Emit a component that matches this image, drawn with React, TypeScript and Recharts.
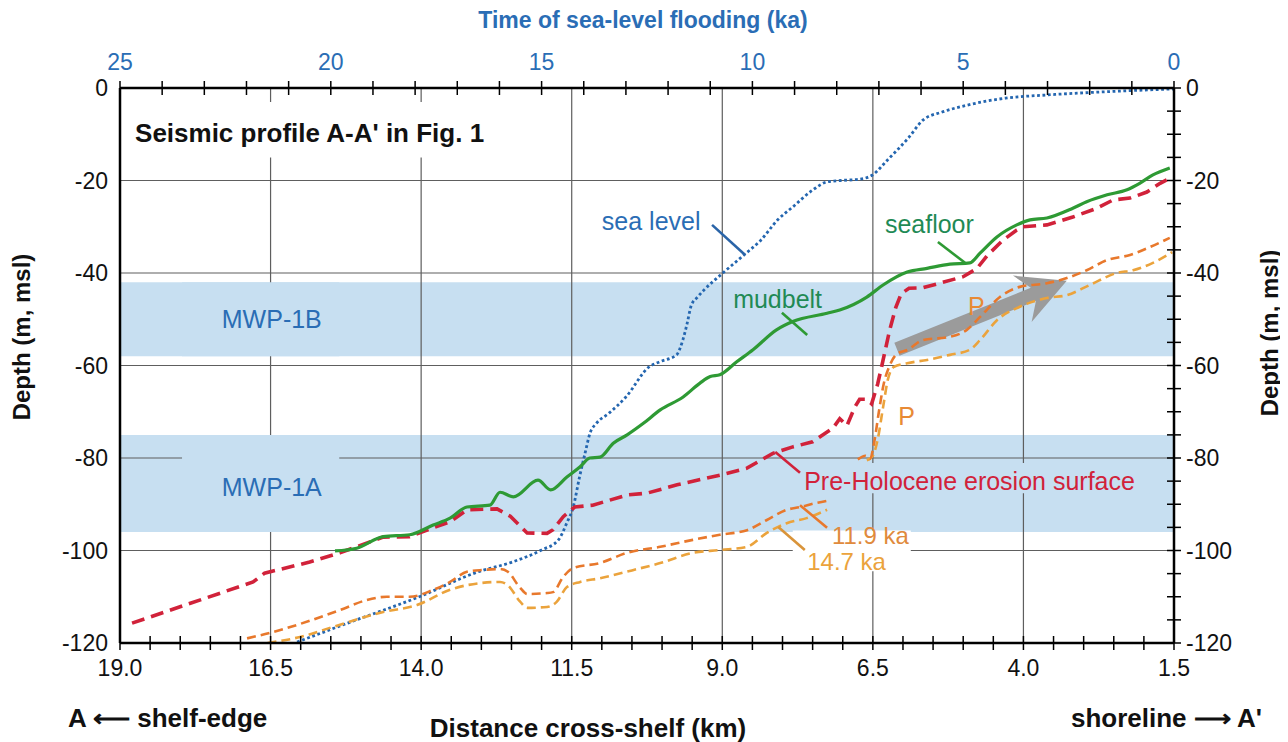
import React from 'react';
import {
  LineChart, Line, XAxis, YAxis, ReferenceArea, ReferenceLine, ReferenceDot,
} from 'recharts';

const FONT = '"Liberation Sans", Arial, Helvetica, sans-serif';

// sea-level curve, read against the top time axis (ka)
const seaLevelKa = [20.8, 19.6, 17.9, 16.5, 15.7, 15.0, 14.6, 14.4, 14.25, 14.1, 13.97, 13.85, 13.7, 13.4, 13.0, 12.45, 12.2, 11.8, 11.65, 11.55, 11.45, 11.3, 11.15, 10.7, 10.2, 9.8, 9.4, 9.04, 8.56, 8.23, 7.9, 7.45, 7.15, 6.8, 6.3, 5.95, 5.5, 4.9, 4.0, 3.0, 1.6, 0];
const seaLevelDepth = [-119.8, -115.7, -110, -104.6, -102.5, -99.9, -97.7, -94, -90.6, -84.1, -79, -74.6, -72.5, -70.3, -66.8, -60.3, -59.2, -57.7, -54.5, -51, -47, -45.2, -43.7, -40, -36.1, -32.9, -28.5, -25.7, -22, -20.3, -20, -19.7, -18.8, -15.6, -10.8, -6.9, -5.2, -3.7, -2.2, -1.5, -0.8, -0.2];

// seafloor (km cross-shelf, m)
const seafloorKm = [15.43, 15.07, 14.63, 14.19, 13.8, 13.52, 13.24, 12.86, 12.69, 12.47, 12.06, 11.85, 11.58, 11.36, 11.2, 11.03, 10.81, 10.58, 10.31, 10.03, 9.65, 9.37, 9.2, 9.04, 8.76, 8.49, 8.1, 7.83, 7.26, 7.05, 6.6, 6.33, 5.93, 5.6, 5.22, 4.89, 4.72, 4.44, 4.11, 3.89, 3.61, 3.18, 2.95, 2.61, 2.28, 2.07, 1.85, 1.57];
const seafloorDepth = [-100.1, -99.5, -97, -96.6, -94.5, -93, -90.6, -90.2, -87.4, -88.4, -84.8, -86.9, -84.1, -81.9, -80, -79.8, -76.8, -75, -72.5, -69.6, -66.8, -63.8, -62.4, -62, -59.2, -56.6, -52.3, -50.5, -48.7, -48, -45.2, -42.6, -39.8, -39, -38.1, -37.8, -35.7, -32.2, -29.6, -28.5, -28.1, -26, -24.6, -23.1, -22, -20.6, -18.8, -17.3];

// pre-Holocene erosion surface
const erosionKm = [18.8, 16.79, 16.6, 15.85, 15.35, 14.63, 14.19, 13.8, 13.52, 13.24, 12.74, 12.52, 12.24, 11.91, 11.81, 11.64, 11.45, 11.15, 10.58, 10.25, 9.75, 9.04, 8.59, 8.16, 7.83, 7.5, 7.16, 7.05, 6.93, 6.8, 6.72, 6.6, 6.52, 6.42, 6.35, 6.22, 6.12, 6.03, 5.9, 5.67, 5.39, 5.0, 4.77, 4.6, 4.34, 4.11, 4.01, 3.61, 3.18, 2.78, 2.51, 2.23, 1.95, 1.73, 1.52];
const erosionDepth = [-115.7, -106.8, -104.9, -102.5, -100.5, -97.1, -97, -95.1, -93.8, -91.2, -91, -92.6, -96.2, -96.3, -95.5, -92.7, -90.6, -90.2, -88, -87.6, -85.8, -83.7, -82.2, -79, -77.6, -76.5, -73.5, -71.5, -73, -69, -67.3, -67.3, -68.3, -64, -60, -52.3, -47.5, -44.5, -43.3, -43.2, -42.2, -40.8, -39, -36.2, -32.9, -30.7, -30, -29.6, -27.9, -26, -24.2, -23.8, -22.5, -20.6, -19.2];

// 11.9 ka horizon (outer shelf part, then the P segment near shore)
const h119Km = [16.89, 16.51, 15.35, 14.9, 14.57, 14.19, 13.8, 13.52, 13.24, 12.97, 12.69, 12.56, 12.36, 12.24, 11.91, 11.81, 11.64, 11.48, 11.03, 10.58, 10.03, 9.49, 9.04, 8.59, 8.26, 7.93, 7.71, 7.5, 7.2];
const h119Depth = [-119, -117.8, -112.9, -110.7, -110, -110, -108.5, -106.8, -104.6, -104.2, -104, -104.6, -108, -109.4, -109.2, -109, -105.7, -103.8, -102.7, -100.5, -99.2, -97.7, -96.6, -95.6, -93.4, -91.2, -90.6, -89.9, -89.1];
const h119PKm = [6.75, 6.62, 6.55, 6.47, 6.4, 6.32, 6.22, 6.1, 5.92, 5.67, 5.22, 4.94, 4.72, 4.39, 4.06, 3.61, 3.28, 2.95, 2.61, 2.23, 1.9, 1.57];
const h119PDepth = [-80.3, -79.5, -80.2, -76, -70, -64, -60, -57.5, -56.6, -54.5, -53.8, -52.3, -49.5, -45.2, -43, -42.2, -41.1, -39.4, -37.2, -36.1, -34.4, -32.4];

// 14.7 ka horizon
const h147Km = [16.55, 16.01, 15.46, 14.63, 14.07, 13.52, 13.24, 12.69, 12.56, 12.36, 12.24, 11.91, 11.75, 11.58, 11.36, 11.03, 10.5, 10.0, 9.49, 9.04, 8.59, 8.26, 7.93, 7.6, 7.26];
const h147Depth = [-120, -118.7, -116.5, -113.3, -111.8, -108.5, -107.5, -106.8, -107.5, -111, -112.4, -112.2, -111.1, -107.9, -106.8, -106, -104.3, -102.6, -100.5, -99.9, -99.2, -96.2, -94.1, -93, -91.2];
const h147PKm = [6.6, 6.5, 6.42, 6.33, 6.25, 6.15, 5.93, 5.6, 5.22, 4.89, 4.72, 4.44, 4.06, 3.61, 3.28, 2.9, 2.45, 2.18, 1.85, 1.53];
const h147PDepth = [-80.5, -79.5, -76, -69, -63, -60.3, -59.5, -58.8, -57.7, -56.6, -54.5, -50.2, -47.3, -45.4, -44.8, -42.6, -40, -39.4, -37.8, -35.5];

// meltwater pulse depth bands
const mwpNames = ['MWP-1B', 'MWP-1A'];
const mwpTop = [-42, -75];
const mwpBottom = [-58, -96];

// axis labels
const distanceLabels = [19.0, 16.5, 14.0, 11.5, 9.0, 6.5, 4.0, 1.5];
const timeLabels = [25, 20, 15, 10, 5, 0];
const depthLabels = [0, -20, -40, -60, -80, -100, -120];

// tick marks (minor steps)
const distanceTicks: number[] = [];
for (let v = 1.5; v <= 19.001; v += 0.5) distanceTicks.push(Math.round(v * 10) / 10);
const timeTicks: number[] = [];
for (let v = 0; v <= 25; v += 1) timeTicks.push(v);
const depthTicks: number[] = [];
for (let v = 0; v >= -120; v -= 5) depthTicks.push(v);

const BLUE = '#2a6db5';
const GREEN = '#2e9a34';
const GREEN_TEXT = '#1f8a55';
const RED = '#d1223a';
const ORANGE = '#e8782c';
const ORANGE_LIGHT = '#eba33c';
const BAND = '#c7dff1';
const GRID = '#5e5e5e';

const rows = (xs: number[], ys: number[], key: string) => xs.map((x, i) => ({ [key]: x, depth: ys[i] }));

const seaLevelData = rows(seaLevelKa, seaLevelDepth, 'ka');
const seafloorData = rows(seafloorKm, seafloorDepth, 'km');
const erosionData = rows(erosionKm, erosionDepth, 'km');
const h119Data = rows(h119Km, h119Depth, 'km');
const h119PData = rows(h119PKm, h119PDepth, 'km');
const h147Data = rows(h147Km, h147Depth, 'km');
const h147PData = rows(h147PKm, h147PDepth, 'km');

const isIn = (list: number[], v: number) => list.some((m) => Math.abs(m - v) < 1e-6);

const KmTick = (props: any) => {
  const { x, y, payload } = props;
  const v = payload.value;
  return (
    <g>
      <line x1={x} x2={x} y1={y - 7} y2={y + 7} stroke="#000" strokeWidth={1.5} />
      {isIn(distanceLabels, v) && (
        <text x={x} y={y + 33} textAnchor="middle" fontSize={23} fontFamily={FONT} fill="#111">
          {v.toFixed(1)}
        </text>
      )}
    </g>
  );
};

const KaTick = (props: any) => {
  const { x, y, payload } = props;
  const v = payload.value;
  return (
    <g>
      <line x1={x} x2={x} y1={y - 7} y2={y + 7} stroke="#000" strokeWidth={1.5} />
      {isIn(timeLabels, v) && (
        <text x={x} y={y - 18} textAnchor="middle" fontSize={23} fontFamily={FONT} fill={BLUE}>
          {v}
        </text>
      )}
    </g>
  );
};

const LeftTick = (props: any) => {
  const { x, y, payload } = props;
  return (
    <text x={x - 12} y={y + 8} textAnchor="end" fontSize={23} fontFamily={FONT} fill="#111">
      {payload.value}
    </text>
  );
};

const RightTick = (props: any) => {
  const { x, y, payload } = props;
  const v = payload.value;
  return (
    <g>
      <line x1={x - 7} x2={x + 7} y1={y} y2={y} stroke="#000" strokeWidth={1.5} />
      {isIn(depthLabels, v) && (
        <text x={x + 12} y={y + 8} textAnchor="start" fontSize={23} fontFamily={FONT} fill="#111">
          {v}
        </text>
      )}
    </g>
  );
};

const ArrowShape = (props: any) => {
  const { x1, y1, x2, y2 } = props;
  const dx = x2 - x1;
  const dy = y2 - y1;
  const len = Math.hypot(dx, dy) || 1;
  const ux = dx / len;
  const uy = dy / len;
  const nx = -uy;
  const ny = ux;
  const head = 42;
  const hw = 25;
  const sw = 7;
  const bx = x2 - ux * head;
  const by = y2 - uy * head;
  const pts = [
    [x1 + nx * sw, y1 + ny * sw],
    [bx + nx * sw + ux * 6, by + ny * sw + uy * 6],
    [bx + nx * hw - ux * 6, by + ny * hw - uy * 6],
    [x2, y2],
    [bx - nx * hw - ux * 6, by - ny * hw - uy * 6],
    [bx - nx * sw + ux * 6, by - ny * sw + uy * 6],
    [x1 - nx * sw, y1 - ny * sw],
  ];
  return <polygon points={pts.map((p) => p.join(',')).join(' ')} fill="#9b9b9b" />;
};

type Note = { text: string; km: number; depth: number; color: string; size?: number; bold?: boolean };
const notes: Note[] = [
  { text: "Seismic profile A-A' in Fig. 1", km: 18.75, depth: -11.7, color: '#111', size: 26, bold: true },
  { text: 'MWP-1B', km: 17.31, depth: -51.9, color: BLUE },
  { text: 'MWP-1A', km: 17.31, depth: -88.2, color: BLUE },
  { text: 'sea level', km: 11.0, depth: -30.7, color: BLUE },
  { text: 'mudbelt', km: 8.82, depth: -47.6, color: GREEN_TEXT },
  { text: 'seafloor', km: 6.3, depth: -31.4, color: GREEN_TEXT },
  { text: 'Pre-Holocene erosion surface', km: 7.64, depth: -86.9, color: RED },
  { text: '11.9 ka', km: 7.18, depth: -98.6, color: '#e08a3c', size: 24 },
  { text: '14.7 ka', km: 7.59, depth: -104.2, color: ORANGE_LIGHT, size: 24 },
  { text: 'P', km: 4.92, depth: -49.1, color: '#e88a35' },
  { text: 'P', km: 6.08, depth: -72.9, color: '#e88a35' },
];

const leaders = [
  { x1: 9.17, y1: -29.6, x2: 8.62, y2: -36.1, color: '#2a64a8' },
  { x1: 8.01, y1: -48.6, x2: 7.59, y2: -53.4, color: GREEN },
  { x1: 5.42, y1: -33.3, x2: 4.97, y2: -37.8, color: GREEN },
  { x1: 8.12, y1: -78.7, x2: 7.71, y2: -83.2, color: RED },
  { x1: 7.71, y1: -90.2, x2: 7.26, y2: -95.1, color: ORANGE },
  { x1: 8.07, y1: -94.9, x2: 7.63, y2: -99.9, color: '#d9943a' },
];

// background patches that hide the grid behind labels
const masks = [
  { x1: 18.9, x2: 12.9, y1: -3, y2: -15, fill: '#ffffff' },
  { x1: 17.97, x2: 15.36, y1: -42, y2: -58, fill: BAND },
  { x1: 17.97, x2: 15.36, y1: -75, y2: -96, fill: BAND },
  { x1: 7.71, x2: 1.9, y1: -81.1, y2: -87.6, fill: BAND },
  { x1: 7.83, x2: 5.87, y1: -95.7, y2: -104.5, fill: '#ffffff' },
];

const arrow = { x1: 6.1, y1: -56.5, x2: 3.28, y2: -41.7 };

const gridKm = [16.5, 14.0, 11.5, 9.0, 6.5, 4.0];
const gridDepth = [-20, -40, -60, -80, -100];

const TopTitle = () => (
  <text x={635} y={20} textAnchor="middle" fontSize={23} fontWeight="bold" fontFamily={FONT} fill={BLUE}>
    Time of sea-level flooding (ka)
  </text>
);

const BottomTitle = () => (
  <g fontFamily={FONT} fontWeight="bold" fill="#111">
    <text x={60} y={719} fontSize={26}>A ⟵ shelf-edge</text>
    <text x={580} y={729} fontSize={26} textAnchor="middle">Distance cross-shelf (km)</text>
    <text x={1254} y={719} fontSize={26} textAnchor="end">shoreline ⟶ A'</text>
  </g>
);

const LeftTitle = () => (
  <text x={13} y={329} transform="rotate(-90, 13, 329)" textAnchor="middle" dominantBaseline="central"
    fontSize={24} fontWeight="bold" fontFamily={FONT} fill="#111">
    Depth (m, msl)
  </text>
);

const RightTitle = () => (
  <text x={1261} y={325} transform="rotate(-90, 1261, 325)" textAnchor="middle" dominantBaseline="central"
    fontSize={24} fontWeight="bold" fontFamily={FONT} fill="#111">
    Depth (m, msl)
  </text>
);

const base = { dot: false, activeDot: false, isAnimationActive: false, fill: 'none' };

export default function App() {
  return (
    <div style={{ width: 1280, height: 734 }}>
      <LineChart width={1280} height={734} margin={{ top: 50, right: 64, bottom: 59, left: 72 }}>
        <XAxis
          dataKey="km" type="number" domain={[1.5, 19]} reversed allowDataOverflow
          ticks={distanceTicks} interval={0} tickSize={0} tickMargin={0} tickLine={false}
          axisLine={{ stroke: '#000', strokeWidth: 2.5 }} tick={<KmTick />} height={40}
          label={{ content: <BottomTitle /> }}
        />
        <XAxis
          xAxisId="ka" orientation="top" dataKey="ka" type="number" domain={[0, 25]} reversed allowDataOverflow
          ticks={timeTicks} interval={0} tickSize={0} tickMargin={0} tickLine={false}
          axisLine={{ stroke: '#000', strokeWidth: 2.5 }} tick={<KaTick />} height={30}
          label={{ content: <TopTitle /> }}
        />
        <YAxis
          dataKey="depth" type="number" domain={[-120, 0]} allowDataOverflow
          ticks={depthLabels} interval={0} tickSize={0} tickMargin={0} tickLine={false}
          axisLine={{ stroke: '#000', strokeWidth: 2.5 }} tick={<LeftTick />} width={40}
          label={{ content: <LeftTitle /> }}
        />
        <YAxis
          yAxisId="right" orientation="right" type="number" domain={[-120, 0]} allowDataOverflow
          ticks={depthTicks} interval={0} tickSize={0} tickMargin={0} tickLine={false}
          axisLine={{ stroke: '#000', strokeWidth: 2.5 }} tick={<RightTick />} width={50}
          label={{ content: <RightTitle /> }}
        />

        {mwpNames.map((n, i) => (
          <ReferenceArea key={n} x1={19} x2={1.5} y1={mwpTop[i]} y2={mwpBottom[i]}
            fill={BAND} fillOpacity={1} stroke="none" zIndex={-300} />
        ))}
        {gridKm.map((v) => (
          <ReferenceLine key={'gx' + v} x={v} stroke={GRID} strokeWidth={1.2} zIndex={-200} />
        ))}
        {gridDepth.map((v) => (
          <ReferenceLine key={'gy' + v} y={v} stroke={GRID} strokeWidth={1.2} zIndex={-200} />
        ))}
        {masks.map((m, i) => (
          <ReferenceArea key={'m' + i} x1={m.x1} x2={m.x2} y1={m.y1} y2={m.y2}
            fill={m.fill} fillOpacity={1} stroke="none" zIndex={-150} />
        ))}

        <Line {...base} type="monotone" xAxisId="ka" data={seaLevelData} dataKey="depth" stroke="#2466b0"
          strokeWidth={2.8} strokeDasharray="2.8 2.6" zIndex={400} />
        <Line {...base} type="linear" data={erosionData} dataKey="depth" stroke={RED}
          strokeWidth={3.6} strokeDasharray="13 7" zIndex={400} />
        <Line {...base} type="monotone" data={seafloorData} dataKey="depth" stroke={GREEN}
          strokeWidth={3.2} zIndex={400} />
        <ReferenceLine segment={[{ x: arrow.x1, y: arrow.y1 }, { x: arrow.x2, y: arrow.y2 }]}
          shape={<ArrowShape />} zIndex={410} />
        <Line {...base} type="monotone" data={h147Data} dataKey="depth" stroke={ORANGE_LIGHT}
          strokeWidth={2.6} strokeDasharray="9 5" zIndex={420} />
        <Line {...base} type="monotone" data={h147PData} dataKey="depth" stroke={ORANGE_LIGHT}
          strokeWidth={2.6} strokeDasharray="9 5" zIndex={420} />
        <Line {...base} type="monotone" data={h119Data} dataKey="depth" stroke={ORANGE}
          strokeWidth={2.6} strokeDasharray="9 5" zIndex={420} />
        <Line {...base} type="monotone" data={h119PData} dataKey="depth" stroke={ORANGE}
          strokeWidth={2.6} strokeDasharray="9 5" zIndex={420} />

        {leaders.map((l, i) => (
          <ReferenceLine key={'l' + i} segment={[{ x: l.x1, y: l.y1 }, { x: l.x2, y: l.y2 }]}
            stroke={l.color} strokeWidth={2.6} zIndex={450} />
        ))}
        {notes.map((n, i) => (
          <ReferenceDot key={'n' + i} x={n.km} y={n.depth} r={0} zIndex={700}
            shape={(p: any) => (
              <text x={p.cx} y={p.cy} fill={n.color} fontSize={n.size || 25}
                fontWeight={n.bold ? 'bold' : 'normal'} fontFamily={FONT}>
                {n.text}
              </text>
            )}
          />
        ))}
      </LineChart>
    </div>
  );
}
